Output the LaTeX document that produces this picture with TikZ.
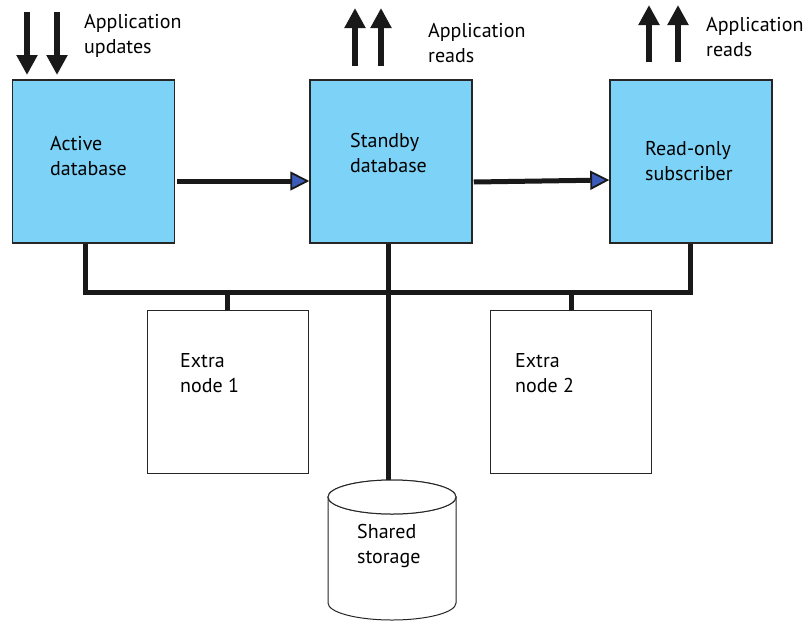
\documentclass[tikz,border=0pt]{standalone}
\usepackage{fontspec}
\setmainfont{PT Sans}
\usetikzlibrary{arrows.meta}
\definecolor{dbblue}{RGB}{125,211,247}
\definecolor{tipblue}{RGB}{60,90,185}
\begin{document}
\begin{tikzpicture}[x=1pt,y=-1pt,
  lbl/.style={anchor=west,align=left,inner sep=0pt,font=\fontsize{20}{25}\selectfont},
  dbbox/.style={draw=black!85,line width=1.5pt,fill=dbblue,minimum width=162pt,minimum height=163pt,inner sep=0pt},
  extrabox/.style={draw=black!85,line width=1pt,fill=white,minimum width=161pt,minimum height=163pt,inner sep=0pt},
  bus/.style={line width=5pt,black!90},
  flow/.style={line width=5pt,black!90,-{Triangle[length=19pt,width=19pt,line width=1.8pt,fill=tipblue]}},
  appar/.style={line width=6pt,black!90,-{Triangle[length=20pt,width=20pt]}}]
\useasboundingbox (0,0) rectangle (809,622);
% boxes
\node[dbbox] (act) at (93.5,161.5) {};
\node[dbbox] (stb) at (391,161.5) {};
\node[dbbox] (ro) at (691,161.5) {};
\node[extrabox] (ex1) at (227.5,391.5) {};
\node[extrabox] (ex2) at (571,391.5) {};
% cylinder
\coordinate (st) at (392,497);
\filldraw[draw=black!85,fill=white,line width=1pt]
  (328,497) -- (328,603) arc[start angle=180,end angle=360,x radius=64pt,y radius=17pt] -- (456,497);
\filldraw[draw=black!85,fill=white,line width=1pt] (st) ellipse[x radius=64pt,y radius=17pt];
% labels
\node[lbl] at (50,156) {Active\\database};
\node[lbl] at (350,153) {Standby\\database};
\node[lbl] at (645,161) {Read-only\\subscriber};
\node[lbl] at (180,373) {Extra\\node 1};
\node[lbl] at (515,373) {Extra\\node 2};
\node[lbl] at (357,546) {Shared\\storage};
\node[lbl] at (84,36) {Application\\updates};
\node[lbl] at (428,43) {Application\\reads};
\node[lbl] at (706,37) {Application\\reads};
% flow arrows
\draw[flow] ([xshift=2pt]act.east |- 0,181) -- (stb.west |- 0,181);
\draw[flow] ([xshift=1pt]stb.east |- 0,182) -- (ro.west |- 0,180);
% bus
\coordinate (bl) at (85,292);
\coordinate (br) at (690,292);
\draw[bus] (act.south -| bl) -- (bl) -- (br) -- (ro.south -| br);
\draw[bus] (stb.south -| 388,0) -- (st -| 388,0);
\draw[bus] (ex1.north |- bl) -- (ex1.north);
\draw[bus] (ex2.north |- bl) -- (ex2.north);
\filldraw[draw=black!85,fill=white,line width=1pt] (st) ellipse[x radius=64pt,y radius=17pt];
% application arrows
\coordinate (d1s) at (27,12); \coordinate (d1e) at (27,75);
\coordinate (d2s) at (57,12); \coordinate (d2e) at (57,75);
\draw[appar] (d1s) -- (d1e);
\draw[appar] (d2s) -- (d2e);
\coordinate (u1s) at (355,66); \coordinate (u1e) at (355,8);
\coordinate (u2s) at (381,66); \coordinate (u2e) at (381,8);
\draw[appar] (u1s) -- (u1e);
\draw[appar] (u2s) -- (u2e);
\coordinate (u3s) at (649,62); \coordinate (u3e) at (649,5);
\coordinate (u4s) at (678,62); \coordinate (u4e) at (678,5);
\draw[appar] (u3s) -- (u3e);
\draw[appar] (u4s) -- (u4e);
\end{tikzpicture}
\end{document}
